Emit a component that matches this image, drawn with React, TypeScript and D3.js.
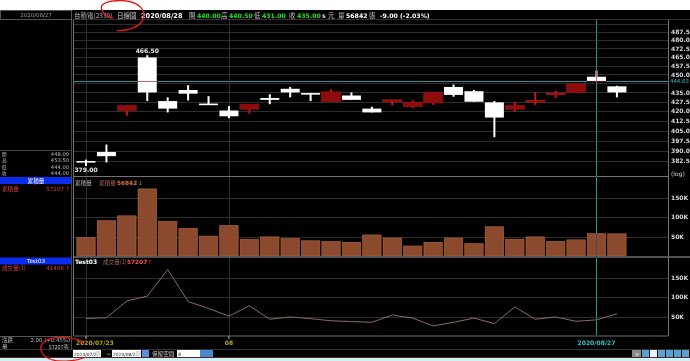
import React from 'react';
import * as d3 from 'd3';

const dates = ['2020/07/23','2020/07/24','2020/07/27','2020/07/28','2020/07/29','2020/07/30','2020/07/31',
  '2020/08/03','2020/08/04','2020/08/05','2020/08/06','2020/08/07','2020/08/10','2020/08/11','2020/08/12',
  '2020/08/13','2020/08/14','2020/08/17','2020/08/18','2020/08/19','2020/08/20','2020/08/21','2020/08/24',
  '2020/08/25','2020/08/26','2020/08/27','2020/08/28'];
const opens  = [382.5,389,420.5,464.5,428,437,426,420.5,421.5,430.5,438,434.5,427.5,432.5,422,428.5,423.5,426.5,439.5,436,427,421.5,427.5,433.5,435,448,440];
const highs  = [383.5,394.5,424.5,466.5,431,441,432,424,425.5,433.5,439.5,434.5,437.5,435,423.5,429,428.5,435,441.5,437,428,427,435,436.5,442.5,453.5,440.5];
const lows   = [379,381.5,416.5,428,419,428.5,425.5,414.5,418,425.5,431,428,427.5,429,419,424.5,422.5,425,431.5,427.5,400,419.5,425,430.5,435,444,431];
const closes = [381.5,386,424.5,435,422,434,425.5,416,425.5,429,435,433.5,435.5,429,419,429,427,435,433,427.5,415,424.5,428.5,434.5,442,444,435];
const volumes = [47000,90500,103000,172000,89000,71000,51000,78000,43000,49000,44500,39000,37000,35000,54000,46000,25600,35000,46000,31600,75000,43000,49000,37600,41406,57207,56842];
const prevVolumes = [45000,47000,90500,103000,172000,89000,71000,51000,78000,43000,49000,44500,39000,37000,35000,54000,46000,25600,35000,46000,31600,75000,43000,49000,37600,41406,57207];
const priceTicks = [382.5,390,397.5,405,412.5,420,427.5,435,442.5,450,457.5,465,472.5,480,487.5,495];
const volTicks = [50000,100000,150000];
const volTickLabels = ['50K','100K','150K'];
const infoLabels = ['開', '高', '低', '收'];
const infoValues = ['448.00', '453.50', '444.00', '444.00'];
const crossPrice = 444.63;
const crossIndex = 25;

const F = "'DejaVu Sans','Noto Sans CJK TC',sans-serif";
const CJK = "'Noto Sans CJK TC','DejaVu Sans',sans-serif";

export default function App() {
  const W = 690, H = 361;
  const X0 = 73.5, X1 = 668.5;
  const P_TOP = 20, P_BOT = 176;
  const V_TOP = 177, V_BOT = 256;
  const L_TOP = 258, L_BOT = 335.8;

  const x = d3.scaleBand<string>().domain(dates).range([75.8, 627.1]).paddingInner(0.07).paddingOuter(0.035);
  const bw = x.bandwidth();
  const xc = (i: number) => (x(dates[i]) as number) + bw / 2;
  const y = d3.scaleLog().domain([371.9, 498.3]).range([P_BOT, P_TOP]);
  const yv = d3.scaleLinear().domain([0, 202600]).range([V_BOT, V_TOP]);
  const yl = d3.scaleLinear().domain([0, 202000]).range([L_BOT, L_TOP]);
  const line = d3.line<number>().x((_, i) => xc(i)).y(d => yl(d));

  const monthIdx = dates.map((d, i) => (i === 0 || d.slice(5, 7) !== dates[i - 1].slice(5, 7)) ? i : -1).filter(i => i >= 0);
  const hiIdx = highs.indexOf(d3.max(highs) as number);
  const loIdx = lows.indexOf(d3.min(lows) as number);
  const yCross = y(crossPrice);

  const grid = '#2e2e2e';
  const border = '#7a6e78';
  const axisText = '#d8d8d8';
  const red = '#8e0c0c';
  const redLine = '#cc1414';

  return (
    <svg width={W} height={H} style={{ position: 'absolute', left: 0, top: 0, display: 'block', background: '#000' }}>
      <rect x={0} y={0} width={W} height={H} fill="#000" />
      <rect x={0} y={0} width={W} height={10} fill="#fff" />

      {/* header */}
      <rect x={0.5} y={10.5} width={71} height={9} fill="#000" stroke="#555" />
      <text x={36} y={17.3} fill="#9a9a9a" fontSize={5.5} fontFamily={F} textAnchor="middle">2020/08/27</text>
      <line x1={73} x2={W} y1={19.5} y2={19.5} stroke="#3a2e30" />
      <g fontFamily={F} fontSize={6.2} fontWeight="bold">
        <text x={74} y={17.5} fill="#b8b8b8" fontWeight="normal" fontFamily={CJK} fontSize={6.5}>台積電(2330)</text>
        <text x={117} y={17.5} fill="#d0d0d0" fontWeight="normal" fontFamily={CJK} fontSize={6.5}>日線圖</text>
        <text x={141} y={17.5} fill="#ffffff" fontSize={6.6}>2020/08/28</text>
        <text x={189} y={17.5} fill="#c0c0c0" fontWeight="normal" fontFamily={CJK} fontSize={6.5}>開</text>
        <text x={197} y={17.5} fill="#22e022">440.00</text>
        <text x={221} y={17.5} fill="#c0c0c0" fontWeight="normal" fontFamily={CJK} fontSize={6.5}>高</text>
        <text x={229} y={17.5} fill="#22e022">440.50</text>
        <text x={254} y={17.5} fill="#c0c0c0" fontWeight="normal" fontFamily={CJK} fontSize={6.5}>低</text>
        <text x={262} y={17.5} fill="#22e022">431.00</text>
        <text x={289} y={17.5} fill="#c0c0c0" fontWeight="normal" fontFamily={CJK} fontSize={6.5}>收</text>
        <text x={297} y={17.5} fill="#22e022">435.00</text>
        <text x={322} y={17.5} fill="#e0e0e0">s</text>
        <text x={328} y={17.5} fill="#c0c0c0" fontWeight="normal" fontFamily={CJK} fontSize={6.5}>元</text>
        <text x={338} y={17.5} fill="#c0c0c0" fontWeight="normal" fontFamily={CJK} fontSize={6.5}>量</text>
        <text x={346} y={17.5} fill="#ffffff">56842</text>
        <text x={369} y={17.5} fill="#c0c0c0" fontWeight="normal" fontFamily={CJK} fontSize={6.5}>張</text>
        <text x={380} y={17.5} fill="#ffffff">-9.00 (-2.03%)</text>
      </g>

      {/* left panel */}
      <line x1={71.5} x2={71.5} y1={20} y2={349} stroke="#4a4a4a" />
      <line x1={0} x2={71} y1={150.5} y2={150.5} stroke="#444" />
      <g fill="#bdbdbd">
        {infoLabels.map((lab, i) => (
          <g key={lab}>
            <text x={2} y={155.6 + i * 6.5} fontFamily={CJK} fontSize={4.6}>{lab}</text>
            <text x={69} y={155.6 + i * 6.5} fontFamily={F} fontSize={5.2} textAnchor="end">{infoValues[i]}</text>
          </g>
        ))}
      </g>
      <rect x={0} y={177} width={71} height={7} fill="#0a2cf0" />
      <text x={36} y={182.8} fill="#fff" fontSize={5.6} fontFamily={CJK} textAnchor="middle">累積量</text>
      <text x={2} y={190.5} fill="#e03c3c" fontSize={5.6} fontFamily={CJK}>累積量</text>
      <text x={64} y={190.5} fill="#e03c3c" fontSize={5.6} fontFamily={F} textAnchor="end">57207</text>
      <text x={65.5} y={190.5} fill="#ff2a2a" fontSize={5.6} fontFamily={F}>↑</text>
      <rect x={0} y={257.5} width={71} height={7} fill="#0a2cf0" />
      <text x={36} y={263.3} fill="#fff" fontSize={5.6} fontFamily={F} textAnchor="middle">Test03</text>
      <text x={2} y={270} fill="#e03c3c" fontSize={5.6} fontFamily={CJK}>成交量(1)</text>
      <text x={64} y={270} fill="#e03c3c" fontSize={5.6} fontFamily={F} textAnchor="end">41406</text>
      <text x={65.5} y={270} fill="#ff2a2a" fontSize={5.6} fontFamily={F}>↑</text>
      <line x1={0} x2={71} y1={336.5} y2={336.5} stroke="#555" />
      <text x={2} y={341.5} fill="#bdbdbd" fontSize={5.5} fontFamily={CJK}>漲跌</text>
      <text x={70} y={341.5} fill="#bdbdbd" fontSize={5.4} fontFamily={F} textAnchor="end">2.00 (+0.45%)</text>
      <text x={2} y={348.5} fill="#bdbdbd" fontSize={5.5} fontFamily={CJK}>量</text>
      <text x={69} y={348.5} fill="#bdbdbd" fontSize={5.4} fontFamily={CJK} textAnchor="end">57207張</text>

      {/* grids */}
      {priceTicks.filter(t => y(t) > P_TOP + 2 && y(t) < P_BOT - 2).map(t => (
        <line key={'g' + t} x1={X0} x2={X1} y1={Math.round(y(t)) + 0.5} y2={Math.round(y(t)) + 0.5} stroke={grid} />
      ))}
      {volTicks.map(t => (
        <g key={'vg' + t}>
          <line x1={X0} x2={X1} y1={Math.round(yv(t)) + 0.5} y2={Math.round(yv(t)) + 0.5} stroke={grid} />
          <line x1={X0} x2={X1} y1={Math.round(yl(t)) + 0.5} y2={Math.round(yl(t)) + 0.5} stroke={grid} />
        </g>
      ))}
      {monthIdx.map(i => (
        <line key={'mv' + i} x1={Math.round(xc(i)) + 0.5} x2={Math.round(xc(i)) + 0.5} y1={P_TOP} y2={L_BOT} stroke={grid} />
      ))}

      {/* candles */}
      {dates.map((d, i) => {
        const up = closes[i] > opens[i];
        const top = y(Math.max(opens[i], closes[i]));
        const bot = y(Math.min(opens[i], closes[i]));
        const h = Math.max(bot - top, 1.6);
        const cx = xc(i);
        return (
          <g key={d}>
            <line x1={cx} x2={cx} y1={y(highs[i])} y2={y(lows[i])} stroke={up ? redLine : '#fff'} strokeWidth={2} />
            <rect x={cx - bw / 2} y={top} width={bw} height={h} fill={up ? red : '#fff'} stroke={up ? (h < 2.5 ? redLine : '#a01010') : 'none'} strokeWidth={0.6} />
          </g>
        );
      })}
      <text x={xc(hiIdx)} y={y(highs[hiIdx]) - 2.5} fill="#e8e8e8" fontSize={6} fontWeight="bold" fontFamily={F} textAnchor="middle">{highs[hiIdx].toFixed(2)}</text>
      <text x={xc(loIdx)} y={y(lows[loIdx]) + 6.3} fill="#e8e8e8" fontSize={6} fontWeight="bold" fontFamily={F} textAnchor="middle">{lows[loIdx].toFixed(2)}</text>

      {/* volume bars */}
      {volumes.map((v, i) => (
        <rect key={'v' + i} x={(x(dates[i]) as number) + 0.3} y={yv(v)} width={bw - 0.6} height={V_BOT - yv(v)} fill="#8b4a2e" stroke="#a8633f" strokeWidth={0.7} />
      ))}
      <text x={75} y={185.3} fill="#b0b0b0" fontSize={5.6} fontFamily={CJK}>累積量</text>
      <text x={99} y={185.3} fill="#b0603e" fontSize={5.6} fontFamily={CJK}>累積量</text>
      <text x={117} y={185.3} fill="#e0704e" fontSize={5.8} fontWeight="bold" fontFamily={F}>56842</text>
      <text x={138} y={185.3} fill="#22d022" fontSize={5.8} fontFamily={F}>↓</text>

      {/* line pane */}
      <path d={line(prevVolumes) || ''} fill="none" stroke="#8a6c66" strokeWidth={1} />
      <text x={75} y={264.2} fill="#ffffff" fontSize={6} fontWeight="bold" fontFamily={F}>Test03</text>
      <text x={103} y={264.2} fill="#a0605a" fontSize={5.6} fontFamily={CJK}>成交量(1)</text>
      <text x={127} y={264.2} fill="#ff5050" fontSize={5.8} fontWeight="bold" fontFamily={F}>57207</text>
      <text x={147.5} y={264.2} fill="#ff2a2a" fontSize={5.8} fontFamily={F}>↑</text>

      {/* pane borders */}
      <line x1={X0} x2={X0} y1={P_TOP} y2={L_BOT} stroke={border} />
      <line x1={X1} x2={X1} y1={P_TOP} y2={L_BOT} stroke={border} />
      <line x1={X0} x2={X1} y1={176.5} y2={176.5} stroke={border} />
      <line x1={X0} x2={W} y1={257} y2={257} stroke="#6a6a6a" strokeWidth={1.5} />
      <line x1={X0} x2={X1} y1={336} y2={336} stroke="#6a6a6a" />

      {/* right axes */}
      <g fontFamily={F} fontSize={6} fontWeight="bold" fill={axisText}>
        {priceTicks.filter(t => y(t) > P_TOP + 5 && y(t) < P_BOT - 8 && Math.abs(y(t) - yCross) > 4.5).map(t => (
          <text key={'pt' + t} x={671} y={y(t) + 2.2}>{t.toFixed(1)}</text>
        ))}
        <text x={671} y={176} fontWeight="normal">(log)</text>
        {volTicks.map((t, i) => (
          <g key={'vt' + t}>
            <text x={671} y={yv(t) + 2.2}>{volTickLabels[i]}</text>
            <text x={671} y={yl(t) + 2.2}>{volTickLabels[i]}</text>
          </g>
        ))}
      </g>

      {/* crosshair */}
      <g style={{ mixBlendMode: 'difference' }}>
        <line x1={X0} x2={X1} y1={Math.round(yCross) + 0.5} y2={Math.round(yCross) + 0.5} stroke="#3a9494" />
        <line x1={Math.round(xc(crossIndex)) + 0.5} x2={Math.round(xc(crossIndex)) + 0.5} y1={P_TOP} y2={L_BOT} stroke="#3a9494" />
      </g>
      <rect x={669.5} y={yCross - 3} width={20.5} height={6} fill="#000" />
      <text x={670} y={yCross + 2.1} fill="#30c8c8" fontSize={5.4} fontFamily={F}>{crossPrice.toFixed(2)}</text>

      {/* date row */}
      {monthIdx.map(i => (
        <line key={'mt' + i} x1={xc(i)} x2={xc(i)} y1={336} y2={339} stroke="#bbb" />
      ))}
      <text x={76} y={345} fill="#b8a820" fontSize={6} fontWeight="bold" fontFamily={F}>2020/07/23</text>
      <text x={xc(7)} y={345} fill="#b8a820" fontSize={6} fontWeight="bold" fontFamily={F} textAnchor="middle">08</text>
      <text x={xc(crossIndex)} y={345} fill="#30c8c8" fontSize={6} fontWeight="bold" fontFamily={F} textAnchor="middle">{dates[crossIndex]}</text>

      {/* toolbar */}
      <line x1={0} x2={W} y1={349.5} y2={349.5} stroke="#333" />
      <rect x={73} y={350} width={28} height={7} fill="#fff" />
      <text x={74} y={355.5} fill="#222" fontSize={4.4} fontFamily={F}>2020/07/23</text>
      <rect x={96} y={351} width={4.5} height={5} fill="#ddd" />
      <text x={106} y={355.8} fill="#ccc" fontSize={6} fontFamily={F}>~</text>
      <rect x={112} y={350} width={29} height={7} fill="#fff" />
      <text x={113} y={355.5} fill="#222" fontSize={4.4} fontFamily={F}>2020/08/28</text>
      <rect x={136} y={351} width={4.5} height={5} fill="#ddd" />
      <rect x={142} y={350} width={7} height={7} fill="#5a8ed8" />
      <text x={152} y={355.8} fill="#c8c8c8" fontSize={5.6} fontFamily={CJK}>保留空間</text>
      <rect x={177} y={350} width={23} height={7} fill="#fff" />
      <text x={178} y={355.5} fill="#222" fontSize={4.8} fontFamily={F}>4</text>
      <rect x={200} y={350} width={6} height={7} fill="#4a88d0" />
      <rect x={206} y={350} width={7} height={7} fill="#4a88d0" />
      <rect x={632} y={350} width={9} height={7} fill="#888" />
      <text x={635} y={355.5} fill="#fff" fontSize={5} fontFamily={F}>&gt;</text>
      {[0, 1, 2, 3, 4, 5].map(k => (
        <rect key={'ic' + k} x={642 + k * 8} y={350} width={7} height={7} fill={k === 1 ? '#e8f4ff' : '#5aa0d0'} />
      ))}
      <line x1={0} x2={W} y1={357.5} y2={357.5} stroke="#4a2a20" />
      <rect x={0} y={358} width={W} height={3} fill="#d4eef6" />

      {/* annotations */}
      <path d="M117,30.5 C128,31 141,27 143.5,18 C146,8 136,1 122,0.6 C110,0.3 100,3 101.5,9 C103,14 108,17 113,18" fill="none" stroke="#e01818" strokeWidth={1.3} />
      <path d="M84,344 C80,337 56,335 46,340.5 C38,345 39,355.5 51,359.5 C61,362.5 77,361 86,357" fill="none" stroke="#e01818" strokeWidth={1.3} />
    </svg>
  );
}
